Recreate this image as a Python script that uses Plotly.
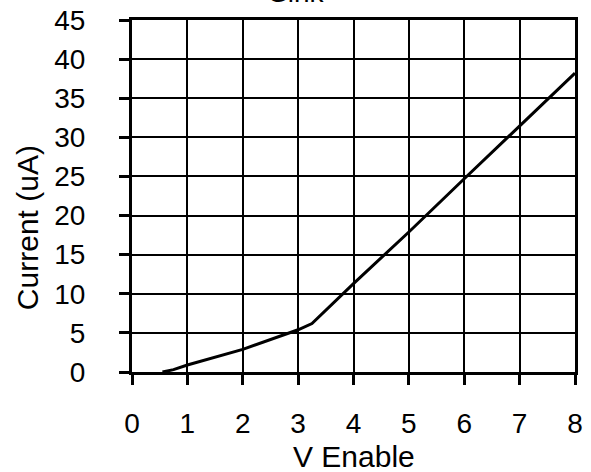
import plotly.graph_objects as go

v_enable = [0.55, 0.75, 1.0, 2.0, 3.0, 3.25, 4.0, 5.0, 6.0, 7.0, 8.0]
current_ua = [0.0, 0.3, 0.9, 2.9, 5.4, 6.2, 11.3, 17.9, 24.7, 31.5, 38.2]
x_ticks = [0, 1, 2, 3, 4, 5, 6, 7, 8]
y_ticks = [0, 5, 10, 15, 20, 25, 30, 35, 40, 45]

FONT = "Liberation Sans, Arial, sans-serif"

fig = go.Figure()
fig.add_trace(go.Scatter(x=v_enable, y=current_ua, mode="lines",
                         line=dict(color="black", width=3), showlegend=False))

fig.update_layout(
    width=591, height=472,
    margin=dict(l=132, r=16, t=20, b=100, autoexpand=False),
    plot_bgcolor="white", paper_bgcolor="white",
    xaxis=dict(range=[0, 8], tickvals=x_ticks, automargin=False,
               showline=True, linecolor="black", linewidth=3, mirror=True,
               showgrid=True, gridcolor="black", gridwidth=1.5,
               ticks="outside", ticklen=10, tickwidth=2.5, tickcolor="black",
               zeroline=False, ticklabelstandoff=14,
               tickfont=dict(family=FONT, size=28, color="black")),
    yaxis=dict(range=[0, 45], tickvals=y_ticks, automargin=False,
               showline=True, linecolor="black", linewidth=3, mirror=True,
               showgrid=True, gridcolor="black", gridwidth=1.5,
               ticks="outside", ticklen=10, tickwidth=2.5, tickcolor="black",
               zeroline=False, ticklabelstandoff=28,
               tickfont=dict(family=FONT, size=28, color="black")),
    annotations=[
        dict(text="V Enable", xref="paper", yref="paper", x=0.5, y=-0.24,
             xanchor="center", yanchor="middle", showarrow=False,
             font=dict(family=FONT, size=30, color="black")),
        dict(text="Current (uA)", xref="paper", yref="paper", x=-0.236, y=0.41,
             xanchor="center", yanchor="middle", textangle=-90, showarrow=False,
             font=dict(family=FONT, size=30, color="black")),
        dict(text="Sink", xref="paper", yref="paper", x=0.372, y=1.077,
             xanchor="center", yanchor="middle", showarrow=False,
             font=dict(family=FONT, size=28, color="black")),
    ],
)

fig.write_html("out.html")
